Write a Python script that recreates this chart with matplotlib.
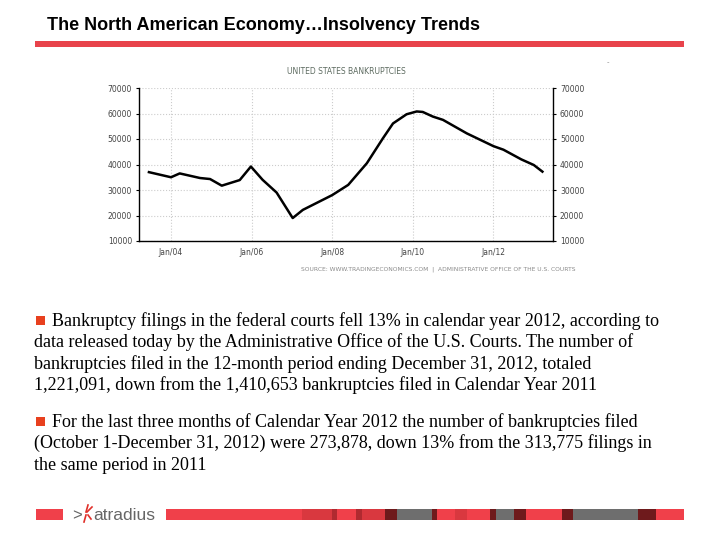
import matplotlib
matplotlib.use("Agg")
import matplotlib.pyplot as plt
import matplotlib.dates as mdates
from matplotlib.patches import Rectangle
from matplotlib.lines import Line2D
import pandas as pd

# --- Data ---
dates = ["2003-06-15", "2004-01-01", "2004-03-20", "2004-09-20", "2004-12-20",
         "2005-04-05", "2005-09-15", "2005-12-25", "2006-04-10", "2006-08-15",
         "2007-01-08", "2007-04-10", "2008-01-01", "2008-05-25", "2008-11-10",
         "2009-04-05", "2009-07-05", "2009-11-05", "2010-02-05", "2010-04-01",
         "2010-07-01", "2010-10-01", "2011-05-05", "2012-01-01", "2012-04-01",
         "2012-09-10", "2013-01-01", "2013-03-20"]
bankruptcies = [37000, 35000, 36500, 34700, 34300,
                31700, 33900, 39200, 34000, 29000,
                19000, 22200, 28000, 32000, 40500,
                50300, 56100, 59700, 60800, 60600,
                58800, 57500, 52200, 47200, 45800,
                42000, 39800, 37200]
x_ticks = ["2004-01-01", "2006-01-01", "2008-01-01", "2010-01-01", "2012-01-01"]
y_ticks = [10000, 20000, 30000, 40000, 50000, 60000, 70000]

title = "The North American Economy\u2026Insolvency Trends"
chart_title = "UNITED STATES BANKRUPTCIES"
source = "SOURCE: WWW.TRADINGECONOMICS.COM  |  ADMINISTRATIVE OFFICE OF THE U.S. COURTS"
para1 = ["Bankruptcy filings in the federal courts fell 13% in calendar year 2012, according to",
         "data released today by the Administrative Office of the U.S. Courts. The number of",
         "bankruptcies filed in the 12-month period ending December 31, 2012, totaled",
         "1,221,091, down from the 1,410,653 bankruptcies filed in Calendar Year 2011"]
para2 = ["For the last three months of Calendar Year 2012 the number of bankruptcies filed",
         "(October 1-December 31, 2012) were 273,878, down 13% from the 313,775 filings in",
         "the same period in 2011"]

# footer bar segments: (start px, end px, colour)
RED, DRED, MAR, GREY = "#f0404a", "#d9383f", "#6e1a1c", "#6e6e6e"
footer = [(166, 302, RED), (302, 332, DRED), (332, 337, "#b02a30"), (337, 356, RED),
          (356, 362, "#b02a30"), (362, 385, DRED), (385, 397, MAR), (397, 432, GREY),
          (432, 437, MAR), (437, 455, RED), (455, 467, DRED), (467, 490, RED),
          (490, 496, MAR), (496, 514, GREY), (514, 526, MAR), (526, 562, RED),
          (562, 573, MAR), (573, 638, GREY), (638, 656, MAR), (656, 684, RED)]

W, H = 720, 540
fig = plt.figure(figsize=(7.2, 5.4), dpi=100)
fig.patch.set_facecolor("white")


def fx(px):
    return px / W


def fy(py):
    return 1 - py / H


# --- Slide title and red rule ---
fig.text(fx(47), fy(30), title, fontsize=13, fontweight="bold",
         family="Liberation Sans", ha="left", va="baseline", color="black")
fig.add_artist(Rectangle((fx(35), fy(47)), fx(684 - 35), 6 / H,
                         transform=fig.transFigure, color="#e8434b", lw=0))
fig.text(fx(608), fy(64), "-", fontsize=5, color="#888888", ha="center")

# --- Chart ---
ax = fig.add_axes([fx(139), fy(241), fx(553 - 139), (241 - 88) / H])
d = pd.to_datetime(dates)
ax.plot(d, bankruptcies, color="black", lw=1.8, solid_joinstyle="round")
ax.set_ylim(10000, 70000)
ax.set_xlim(pd.Timestamp("2003-03-17"), pd.Timestamp("2013-06-24"))
ax.set_xticks(pd.to_datetime(x_ticks))
ax.xaxis.set_major_formatter(mdates.DateFormatter("%b/%y"))
ax.set_yticks(y_ticks)
ax.grid(True, color="#cccccc", linestyle=":", lw=0.8)
ax.tick_params(axis="both", labelsize=5.5, labelcolor="#444444", length=2,
               color="black", width=0.8)
ax.tick_params(axis="y", which="both", right=True, labelright=True, pad=3)
ax.tick_params(axis="x", length=0, pad=5)
for s in ["left", "right", "bottom"]:
    ax.spines[s].set_color("black")
    ax.spines[s].set_linewidth(1.0)
ax.spines["top"].set_visible(False)

fig.text(fx(346), fy(72), chart_title, fontsize=5.5, color="#5d6b60",
         ha="center", va="center")
fig.text(fx(438), fy(269), source, fontsize=4.3, color="#8a8a8a",
         ha="center", va="center")


# --- Bullet text ---
def bullet(py):
    fig.add_artist(Rectangle((fx(36), fy(py)), 9 / W, 9 / H,
                             transform=fig.transFigure, color="#e8401e", lw=0))


for i, line in enumerate(para1):
    x0 = 52 if i == 0 else 34
    fig.text(fx(x0), fy(326 + i * 21.3), line, fontsize=13,
             family="Liberation Serif", ha="left", va="baseline")
bullet(325)
for i, line in enumerate(para2):
    x0 = 52 if i == 0 else 34
    fig.text(fx(x0), fy(427 + i * 21.3), line, fontsize=13,
             family="Liberation Serif", ha="left", va="baseline")
bullet(426)

# --- Footer ---
fig.add_artist(Rectangle((fx(36), fy(520)), fx(63 - 36), 11 / H,
                         transform=fig.transFigure, color=RED, lw=0))
for x0, x1, c in footer:
    fig.add_artist(Rectangle((fx(x0), fy(520)), fx(x1 - x0), 11 / H,
                             transform=fig.transFigure, color=c, lw=0))
fig.text(fx(72), fy(520), ">", fontsize=12, color="#666666", ha="left",
         va="baseline", family="Liberation Sans")
for (x0, y0, x1, y1) in [(88, 505, 86, 512), (92, 507, 87, 512),
                         (86, 515, 84, 522), (88, 515, 91, 519)]:
    fig.add_artist(Line2D([fx(x0), fx(x1)], [fy(y0), fy(y1)],
                          transform=fig.transFigure, color="#e0302a", lw=1.2))
fig.text(fx(93), fy(520), "atradius", fontsize=12.5, color="#666666",
         ha="left", va="baseline", family="Liberation Sans")

fig.savefig("out.png", dpi=100, facecolor="white")
